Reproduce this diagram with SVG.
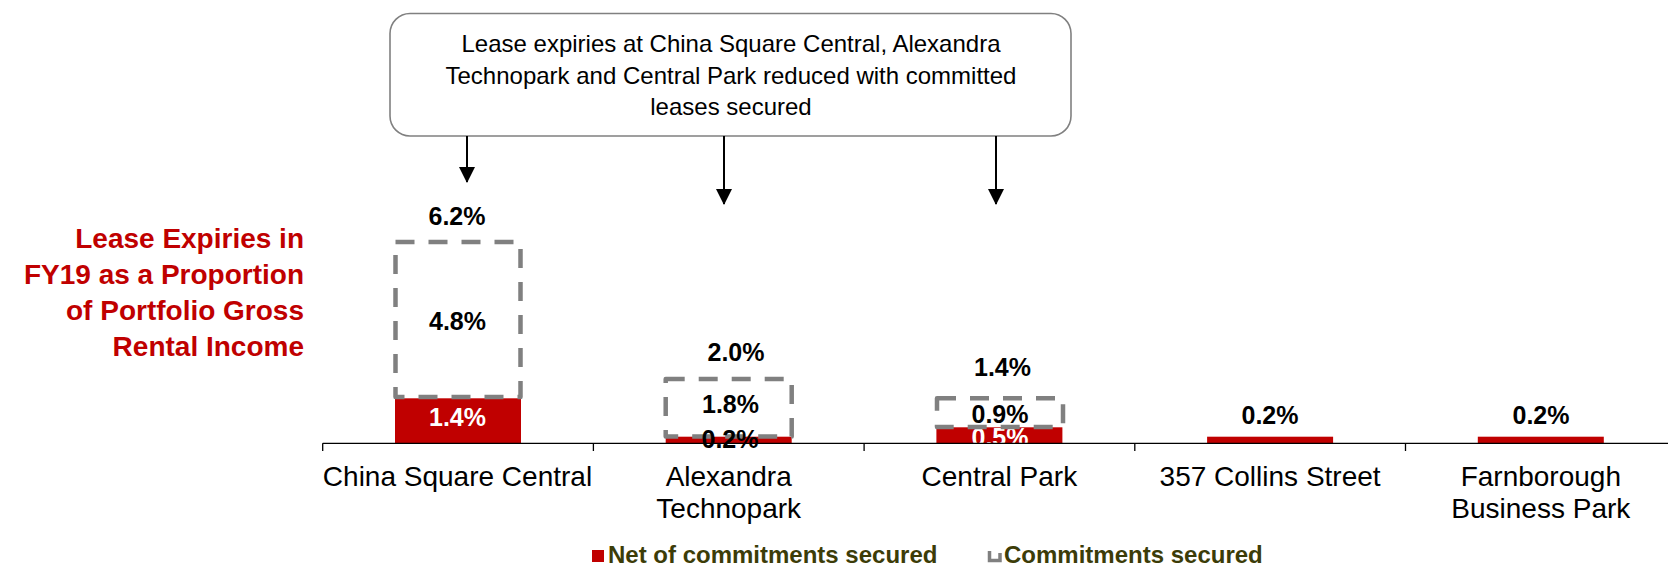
<svg xmlns="http://www.w3.org/2000/svg" width="1668" height="566" viewBox="0 0 1668 566">
<style>
.bg{fill:#fff}
.title{font-family:"Liberation Sans",Arial,sans-serif;font-weight:bold;font-size:28px;fill:#C00000;text-anchor:end}
.note{font-family:"Liberation Sans",Arial,sans-serif;font-size:24px;fill:#000;text-anchor:middle}
.cat{font-family:"Liberation Sans",Arial,sans-serif;font-size:28px;fill:#000;text-anchor:middle}
.val{font-family:"Liberation Sans",Arial,sans-serif;font-weight:bold;font-size:25px;fill:#000;text-anchor:middle}
.valw{font-family:"Liberation Sans",Arial,sans-serif;font-weight:bold;font-size:25px;fill:#fff;text-anchor:middle}
.leg{font-family:"Liberation Sans",Arial,sans-serif;font-weight:bold;font-size:24px;fill:#3C3C08}
.bar{fill:#C00000}
.dash{fill:none;stroke:#808080;stroke-width:4.5;stroke-dasharray:19 14;stroke-linejoin:round}
.axis{stroke:#000;stroke-width:1.3;fill:none}
.arrow{stroke:#000;stroke-width:2;fill:none}
</style>
<defs>
<marker id="ah" markerWidth="8" markerHeight="8" refX="7.5" refY="4" orient="auto" markerUnits="strokeWidth">
<path d="M0,0 L8,4 L0,8 Z" fill="#000"/>
</marker>
</defs>
<rect class="bg" x="0" y="0" width="1668" height="566"/>

<g id="title">
<text class="title" x="304" y="248">Lease Expiries in</text>
<text class="title" x="304" y="284">FY19 as a Proportion</text>
<text class="title" x="304" y="320">of Portfolio Gross</text>
<text class="title" x="304" y="356">Rental Income</text>
</g>

<g id="note">
<rect x="390" y="13.5" width="681" height="122.5" rx="20" ry="20" fill="#fff" stroke="#808080" stroke-width="1.6"/>
<text class="note" x="731" y="52">Lease expiries at China Square Central, Alexandra</text>
<text class="note" x="731" y="84">Technopark and Central Park reduced with committed</text>
<text class="note" x="731" y="115">leases secured</text>
</g>

<g id="connectors">
<line class="arrow" x1="467" y1="136" x2="467" y2="182" marker-end="url(#ah)"/>
<line class="arrow" x1="724" y1="136" x2="724" y2="204" marker-end="url(#ah)"/>
<line class="arrow" x1="996" y1="136" x2="996" y2="204" marker-end="url(#ah)"/>
</g>

<g id="china-square-central">
<rect class="bar" x="395" y="398.3" width="126" height="44.7"/>
<rect class="dash" x="395.5" y="242" width="125" height="155"/>
<text class="val" x="457" y="225">6.2%</text>
<text class="val" x="457.5" y="330">4.8%</text>
<text class="valw" x="457.5" y="426">1.4%</text>
</g>

<g id="alexandra-technopark">
<rect class="bar" x="665.7" y="436.7" width="126" height="6.3"/>
<rect class="dash" x="665.7" y="379" width="126" height="57.5"/>
<text class="val" x="736" y="361">2.0%</text>
<text class="val" x="730.5" y="413">1.8%</text>
<text class="val" x="730" y="448">0.2%</text>
</g>

<g id="central-park">
<rect class="bar" x="936.4" y="427.3" width="126" height="15.7"/>
<text class="valw" x="1000" y="446">0.5%</text>
<rect class="dash" x="937" y="398.3" width="126" height="28.7"/>
<text class="val" x="1002.5" y="376">1.4%</text>
<text class="val" x="1000" y="423">0.9%</text>
</g>

<g id="collins-street">
<rect class="bar" x="1207.1" y="436.7" width="126" height="6.3"/>
<text class="val" x="1270" y="424">0.2%</text>
</g>

<g id="farnborough">
<rect class="bar" x="1477.8" y="436.7" width="126" height="6.3"/>
<text class="val" x="1541" y="424">0.2%</text>
</g>

<g id="axis">
<line class="axis" x1="322.7" y1="443.3" x2="1668" y2="443.3"/>
<path class="axis" d="M322.7,443.3 V451 M593.4,443.3 V451 M864.1,443.3 V451 M1134.8,443.3 V451 M1405.5,443.3 V451"/>
<text class="cat" x="457.5" y="486">China Square Central</text>
<text class="cat" x="728.7" y="486">Alexandra</text>
<text class="cat" x="728.7" y="518">Technopark</text>
<text class="cat" x="999.4" y="486">Central Park</text>
<text class="cat" x="1270.1" y="486">357 Collins Street</text>
<text class="cat" x="1540.8" y="486">Farnborough</text>
<text class="cat" x="1540.8" y="518">Business Park</text>
</g>

<g id="legend">
<rect x="592" y="550" width="12" height="12" fill="#C00000"/>
<text class="leg" x="608" y="563">Net of commitments secured</text>
<path d="M989.5,551 V560.5 H1000 V553" fill="none" stroke="#808080" stroke-width="3.5"/>
<text class="leg" x="1004" y="563">Commitments secured</text>
</g>
</svg>
